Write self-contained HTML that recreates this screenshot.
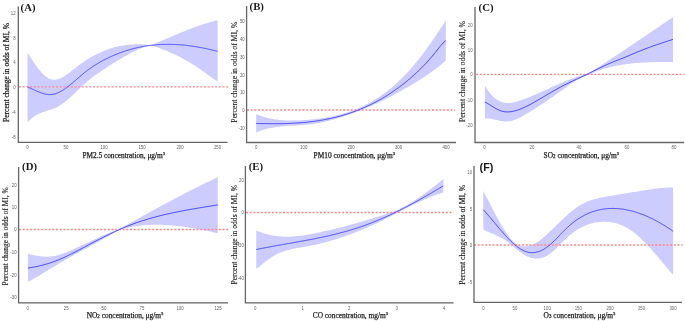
<!DOCTYPE html>
<html><head><meta charset="utf-8"><style>
html,body{margin:0;padding:0;background:#fff;}
body{width:685px;height:321px;overflow:hidden;font-family:"Liberation Serif", serif;}
svg{display:block;will-change:transform;}
</style></head><body>
<svg width="685" height="321" viewBox="0 0 685 321">
<rect width="685" height="321" fill="#fff"/>
<path d="M27.5,52.5 28.5,54.1 29.5,55.7 30.5,57.3 31.5,58.9 32.5,60.4 33.5,61.9 34.5,63.4 35.5,64.8 36.5,66.2 37.5,67.6 38.5,68.9 39.5,70.1 40.5,71.3 41.5,72.4 42.5,73.5 43.5,74.5 44.5,75.4 45.5,76.2 46.5,77.0 47.5,77.6 48.5,78.2 49.5,78.7 50.5,79.1 51.5,79.4 52.5,79.6 53.5,79.7 54.5,79.7 55.5,79.6 56.5,79.5 57.5,79.3 58.5,79.0 59.5,78.7 60.5,78.3 61.5,77.8 62.5,77.3 63.5,76.7 64.5,76.1 65.5,75.5 66.5,74.8 67.5,74.1 68.5,73.4 69.5,72.6 70.5,71.9 71.5,71.1 72.5,70.3 73.5,69.5 74.5,68.7 75.5,67.9 76.5,67.1 77.5,66.3 78.5,65.5 79.5,64.8 80.5,64.1 81.5,63.3 82.5,62.6 83.5,61.9 84.5,61.3 85.5,60.6 86.5,60.0 87.5,59.3 88.5,58.7 89.5,58.1 90.5,57.5 91.5,56.9 92.5,56.4 93.5,55.8 94.5,55.3 95.5,54.8 96.5,54.2 97.5,53.7 98.5,53.3 99.5,52.8 100.5,52.3 101.5,51.9 102.5,51.5 103.5,51.1 104.5,50.6 105.5,50.3 106.5,49.9 107.5,49.5 108.5,49.2 109.5,48.8 110.5,48.5 111.5,48.2 112.5,47.9 113.5,47.6 114.5,47.3 115.5,47.1 116.5,46.8 117.5,46.6 118.5,46.3 119.5,46.1 120.5,45.9 121.5,45.7 122.5,45.6 123.5,45.4 124.5,45.2 125.5,45.1 126.5,45.0 127.5,44.8 128.5,44.7 129.5,44.6 130.5,44.5 131.5,44.5 132.5,44.4 133.5,44.4 134.5,44.3 135.5,44.3 136.5,44.3 137.5,44.3 138.5,44.3 139.5,44.3 140.5,44.3 141.5,44.3 142.5,44.4 143.5,44.5 144.5,44.5 145.5,44.6 146.5,44.7 147.5,44.8 148.5,44.9 149.5,45.0 150.5,45.1 150.9,45.2 151.9,44.8 152.9,44.4 153.9,44.0 154.9,43.6 155.9,43.2 156.9,42.7 157.9,42.3 158.9,41.9 159.9,41.5 160.9,41.1 161.9,40.6 162.9,40.2 163.9,39.8 164.9,39.4 165.9,38.9 166.9,38.5 167.9,38.1 168.9,37.7 169.9,37.2 170.9,36.8 171.9,36.4 172.9,36.0 173.9,35.5 174.9,35.1 175.9,34.7 176.9,34.3 177.9,33.9 178.9,33.5 179.9,33.0 180.9,32.6 181.9,32.2 182.9,31.8 183.9,31.4 184.9,31.0 185.9,30.6 186.9,30.2 187.9,29.8 188.9,29.5 189.9,29.1 190.9,28.7 191.9,28.3 192.9,28.0 193.9,27.6 194.9,27.2 195.9,26.9 196.9,26.5 197.9,26.1 198.9,25.8 199.9,25.5 200.9,25.1 201.9,24.8 202.9,24.4 203.9,24.1 204.9,23.8 205.9,23.5 206.9,23.2 207.9,22.9 208.9,22.6 209.9,22.3 210.9,22.0 211.9,21.7 212.9,21.4 213.9,21.2 214.9,20.9 215.9,20.6 216.9,20.4 217.6,20.2 217.6,81.5 216.9,81.1 215.9,80.4 214.9,79.8 213.9,79.1 212.9,78.4 211.9,77.7 210.9,77.0 209.9,76.2 208.9,75.5 207.9,74.8 206.9,74.0 205.9,73.3 204.9,72.6 203.9,71.9 202.9,71.2 201.9,70.5 200.9,69.8 199.9,69.1 198.9,68.4 197.9,67.7 196.9,67.1 195.9,66.4 194.9,65.8 193.9,65.1 192.9,64.5 191.9,63.9 190.9,63.3 189.9,62.7 188.9,62.1 187.9,61.5 186.9,60.9 185.9,60.3 184.9,59.8 183.9,59.2 182.9,58.7 181.9,58.1 180.9,57.6 179.9,57.1 178.9,56.6 177.9,56.1 176.9,55.6 175.9,55.1 174.9,54.6 173.9,54.1 172.9,53.7 171.9,53.2 170.9,52.8 169.9,52.3 168.9,51.9 167.9,51.5 166.9,51.1 165.9,50.6 164.9,50.2 163.9,49.8 162.9,49.4 161.9,49.1 160.9,48.7 159.9,48.3 158.9,47.9 157.9,47.6 156.9,47.2 155.9,46.9 154.9,46.5 153.9,46.2 152.9,45.8 151.9,45.5 150.9,45.2 150.5,45.3 149.5,45.5 148.5,45.8 147.5,46.0 146.5,46.3 145.5,46.6 144.5,47.0 143.5,47.3 142.5,47.7 141.5,48.1 140.5,48.5 139.5,48.9 138.5,49.3 137.5,49.8 136.5,50.2 135.5,50.7 134.5,51.2 133.5,51.7 132.5,52.2 131.5,52.7 130.5,53.2 129.5,53.8 128.5,54.3 127.5,54.9 126.5,55.4 125.5,56.0 124.5,56.6 123.5,57.1 122.5,57.7 121.5,58.3 120.5,58.9 119.5,59.5 118.5,60.1 117.5,60.7 116.5,61.3 115.5,61.9 114.5,62.5 113.5,63.1 112.5,63.7 111.5,64.4 110.5,65.0 109.5,65.6 108.5,66.3 107.5,66.9 106.5,67.6 105.5,68.2 104.5,68.9 103.5,69.5 102.5,70.2 101.5,70.9 100.5,71.6 99.5,72.3 98.5,73.0 97.5,73.7 96.5,74.4 95.5,75.1 94.5,75.8 93.5,76.6 92.5,77.3 91.5,78.1 90.5,78.9 89.5,79.7 88.5,80.5 87.5,81.3 86.5,82.1 85.5,83.0 84.5,83.9 83.5,84.8 82.5,85.8 81.5,86.7 80.5,87.7 79.5,88.7 78.5,89.6 77.5,90.6 76.5,91.6 75.5,92.6 74.5,93.5 73.5,94.5 72.5,95.4 71.5,96.3 70.5,97.2 69.5,98.1 68.5,99.0 67.5,99.9 66.5,100.7 65.5,101.5 64.5,102.3 63.5,103.1 62.5,103.8 61.5,104.5 60.5,105.1 59.5,105.8 58.5,106.3 57.5,106.9 56.5,107.4 55.5,107.8 54.5,108.2 53.5,108.6 52.5,109.0 51.5,109.4 50.5,109.7 49.5,110.0 48.5,110.3 47.5,110.7 46.5,111.0 45.5,111.3 44.5,111.6 43.5,111.9 42.5,112.3 41.5,112.7 40.5,113.0 39.5,113.5 38.5,113.9 37.5,114.4 36.5,115.0 35.5,115.5 34.5,116.2 33.5,116.8 32.5,117.6 31.5,118.4 30.5,119.3 29.5,120.2 28.5,121.2 27.5,122.3Z" fill="#ccccff"/>
<line x1="19.0" y1="86.80" x2="228.6" y2="86.80" stroke="#ff8585" stroke-width="1.35" stroke-dasharray="2 1.7"/>
<path d="M27.6,87.0 28.6,87.4 29.6,87.9 30.6,88.3 31.6,88.8 32.6,89.2 33.6,89.7 34.6,90.2 35.6,90.6 36.6,91.1 37.6,91.5 38.6,91.9 39.6,92.3 40.6,92.7 41.6,93.1 42.6,93.4 43.6,93.7 44.6,93.9 45.6,94.2 46.6,94.3 47.6,94.5 48.6,94.6 49.6,94.6 50.6,94.6 51.6,94.5 52.6,94.4 53.6,94.2 54.6,94.0 55.6,93.7 56.6,93.3 57.6,92.9 58.6,92.5 59.6,92.0 60.6,91.5 61.6,90.9 62.6,90.3 63.6,89.7 64.6,89.1 65.6,88.4 66.6,87.6 67.6,86.9 68.6,86.1 69.6,85.3 70.6,84.5 71.6,83.7 72.6,82.9 73.6,82.0 74.6,81.2 75.6,80.3 76.6,79.4 77.6,78.5 78.6,77.7 79.6,76.8 80.6,75.9 81.6,75.1 82.6,74.2 83.6,73.4 84.6,72.6 85.6,71.8 86.6,71.0 87.6,70.2 88.6,69.5 89.6,68.8 90.6,68.1 91.6,67.4 92.6,66.7 93.6,66.0 94.6,65.4 95.6,64.8 96.6,64.2 97.6,63.6 98.6,63.0 99.6,62.4 100.6,61.8 101.6,61.3 102.6,60.7 103.6,60.2 104.6,59.7 105.6,59.2 106.6,58.7 107.6,58.2 108.6,57.7 109.6,57.2 110.6,56.7 111.6,56.3 112.6,55.8 113.6,55.4 114.6,55.0 115.6,54.6 116.6,54.2 117.6,53.8 118.6,53.4 119.6,53.0 120.6,52.6 121.6,52.2 122.6,51.9 123.6,51.5 124.6,51.2 125.6,50.9 126.6,50.6 127.6,50.3 128.6,50.0 129.6,49.7 130.6,49.4 131.6,49.1 132.6,48.8 133.6,48.6 134.6,48.3 135.6,48.1 136.6,47.8 137.6,47.6 138.6,47.4 139.6,47.2 140.6,47.0 141.6,46.8 142.6,46.6 143.6,46.4 144.6,46.2 145.6,46.1 146.6,45.9 147.6,45.8 148.6,45.6 149.6,45.5 150.6,45.4 151.6,45.3 152.6,45.2 153.6,45.1 154.6,45.0 155.6,44.9 156.6,44.8 157.6,44.7 158.6,44.6 159.6,44.6 160.6,44.5 161.6,44.5 162.6,44.4 163.6,44.4 164.6,44.4 165.6,44.4 166.6,44.4 167.6,44.4 168.6,44.4 169.6,44.4 170.6,44.4 171.6,44.4 172.6,44.4 173.6,44.5 174.6,44.5 175.6,44.5 176.6,44.6 177.6,44.6 178.6,44.7 179.6,44.8 180.6,44.9 181.6,44.9 182.6,45.0 183.6,45.1 184.6,45.2 185.6,45.3 186.6,45.4 187.6,45.6 188.6,45.7 189.6,45.8 190.6,45.9 191.6,46.1 192.6,46.2 193.6,46.4 194.6,46.5 195.6,46.7 196.6,46.8 197.6,47.0 198.6,47.2 199.6,47.4 200.6,47.6 201.6,47.7 202.6,47.9 203.6,48.1 204.6,48.3 205.6,48.5 206.6,48.8 207.6,49.0 208.6,49.2 209.6,49.4 210.6,49.7 211.6,49.9 212.6,50.1 213.6,50.4 214.6,50.6 215.6,50.9 216.6,51.1 217.6,51.4" fill="none" stroke="#4646ff" stroke-width="1.0"/>
<path d="M18.30,6.50 L18.30,142.40 L227.50,142.40" fill="none" stroke="#666666" stroke-width="1.3"/>
<text transform="translate(20.60,10.75) scale(0.95,1)" font-family="Liberation Serif, serif" font-weight="bold" font-size="11.3" fill="#1a1a1a">(A)</text>
<text transform="translate(8.6,72.5) rotate(-90)" text-anchor="middle" font-family="Liberation Serif, serif" font-size="7.54" fill="#222" stroke="#222" stroke-width="0.25" textLength="99.0" lengthAdjust="spacingAndGlyphs">Percent change in odds of MI, %</text>
<text x="123.7" y="157.6" text-anchor="middle" font-family="Liberation Serif, serif" font-size="7.60" fill="#222" stroke="#222" stroke-width="0.25" textLength="82.6" lengthAdjust="spacingAndGlyphs">PM2.5 concentration, μg/m<tspan font-size="4.71" dy="-2.6">3</tspan></text>
<text transform="translate(15.60,14.76) scale(0.88,1)" text-anchor="end" font-family="Liberation Sans, sans-serif" font-size="4.90" fill="#5e5e5e">12</text>
<text transform="translate(15.60,39.76) scale(0.88,1)" text-anchor="end" font-family="Liberation Sans, sans-serif" font-size="4.90" fill="#5e5e5e">8</text>
<text transform="translate(15.60,64.26) scale(0.88,1)" text-anchor="end" font-family="Liberation Sans, sans-serif" font-size="4.90" fill="#5e5e5e">4</text>
<text transform="translate(15.60,88.76) scale(0.88,1)" text-anchor="end" font-family="Liberation Sans, sans-serif" font-size="4.90" fill="#5e5e5e">0</text>
<text transform="translate(15.60,113.76) scale(0.88,1)" text-anchor="end" font-family="Liberation Sans, sans-serif" font-size="4.90" fill="#5e5e5e">-4</text>
<text transform="translate(15.60,138.76) scale(0.88,1)" text-anchor="end" font-family="Liberation Sans, sans-serif" font-size="4.90" fill="#5e5e5e">-8</text>
<text transform="translate(27.50,148.80) scale(0.88,1)" text-anchor="middle" font-family="Liberation Sans, sans-serif" font-size="4.90" fill="#5e5e5e">0</text>
<text transform="translate(66.00,148.80) scale(0.88,1)" text-anchor="middle" font-family="Liberation Sans, sans-serif" font-size="4.90" fill="#5e5e5e">50</text>
<text transform="translate(104.00,148.80) scale(0.88,1)" text-anchor="middle" font-family="Liberation Sans, sans-serif" font-size="4.90" fill="#5e5e5e">100</text>
<text transform="translate(142.00,148.80) scale(0.88,1)" text-anchor="middle" font-family="Liberation Sans, sans-serif" font-size="4.90" fill="#5e5e5e">150</text>
<text transform="translate(180.00,148.80) scale(0.88,1)" text-anchor="middle" font-family="Liberation Sans, sans-serif" font-size="4.90" fill="#5e5e5e">200</text>
<text transform="translate(217.50,148.80) scale(0.88,1)" text-anchor="middle" font-family="Liberation Sans, sans-serif" font-size="4.90" fill="#5e5e5e">250</text>
<path d="M256.2,114.3 257.2,114.7 258.2,115.1 259.2,115.4 260.2,115.7 261.2,116.1 262.2,116.4 263.2,116.7 264.2,117.0 265.2,117.3 266.2,117.5 267.2,117.8 268.2,118.0 269.2,118.2 270.2,118.4 271.2,118.7 272.2,118.8 273.2,119.0 274.2,119.2 275.2,119.4 276.2,119.5 277.2,119.6 278.2,119.8 279.2,119.9 280.2,120.0 281.2,120.1 282.2,120.2 283.2,120.3 284.2,120.3 285.2,120.4 286.2,120.5 287.2,120.5 288.2,120.5 289.2,120.6 290.2,120.6 291.2,120.6 292.2,120.6 293.2,120.6 294.2,120.6 295.2,120.6 296.2,120.6 297.2,120.5 298.2,120.5 299.2,120.4 300.2,120.4 301.2,120.3 302.2,120.3 303.2,120.2 304.2,120.1 305.2,120.1 306.2,120.0 307.2,119.9 308.2,119.8 309.2,119.7 310.2,119.6 311.2,119.5 312.2,119.4 313.2,119.3 314.2,119.2 315.2,119.1 316.2,119.0 317.2,118.8 318.2,118.7 319.2,118.6 320.2,118.4 321.2,118.3 322.2,118.1 323.2,118.0 324.2,117.8 325.2,117.7 326.2,117.5 327.2,117.3 328.2,117.1 329.2,116.9 330.2,116.8 331.2,116.6 332.2,116.4 333.2,116.1 334.2,115.9 335.2,115.7 336.2,115.5 337.2,115.2 338.2,115.0 339.2,114.7 340.2,114.5 341.2,114.2 342.2,113.9 343.2,113.6 344.2,113.3 345.2,113.0 346.2,112.7 347.2,112.4 348.2,112.1 349.2,111.8 350.2,111.4 351.2,111.1 352.2,110.7 353.2,110.3 354.2,109.9 355.2,109.6 356.2,109.2 357.2,108.7 358.2,108.3 359.2,107.9 360.2,107.4 361.2,107.0 362.2,106.5 363.2,106.1 364.2,105.6 365.2,105.1 366.2,104.6 367.2,104.0 368.2,103.5 369.2,103.0 370.2,102.4 371.2,101.9 372.2,101.3 373.2,100.7 374.2,100.1 375.2,99.5 376.2,98.8 377.2,98.2 378.2,97.5 379.2,96.9 380.2,96.2 381.2,95.5 382.2,94.8 383.2,94.1 384.2,93.4 385.2,92.6 386.2,91.9 387.2,91.1 388.2,90.3 389.2,89.5 390.2,88.7 391.2,87.9 392.2,87.0 393.2,86.2 394.2,85.3 395.2,84.4 396.2,83.5 397.2,82.6 398.2,81.7 399.2,80.7 400.2,79.8 401.2,78.8 402.2,77.8 403.2,76.8 404.2,75.8 405.2,74.8 406.2,73.7 407.2,72.7 408.2,71.6 409.2,70.5 410.2,69.4 411.2,68.2 412.2,67.1 413.2,65.9 414.2,64.8 415.2,63.6 416.2,62.4 417.2,61.1 418.2,59.9 419.2,58.6 420.2,57.4 421.2,56.1 422.2,54.8 423.2,53.4 424.2,52.1 425.2,50.7 426.2,49.4 427.2,48.0 428.2,46.6 429.2,45.2 430.2,43.7 431.2,42.3 432.2,40.9 433.2,39.4 434.2,37.9 435.2,36.5 436.2,35.0 437.2,33.5 438.2,32.0 439.2,30.5 440.2,29.0 441.2,27.5 442.2,26.0 443.2,24.5 444.2,23.0 445.2,21.5 445.8,20.6 445.8,60.6 445.2,61.1 444.2,62.0 443.2,62.8 442.2,63.6 441.2,64.5 440.2,65.3 439.2,66.1 438.2,66.9 437.2,67.6 436.2,68.4 435.2,69.2 434.2,69.9 433.2,70.7 432.2,71.4 431.2,72.1 430.2,72.8 429.2,73.5 428.2,74.2 427.2,74.9 426.2,75.6 425.2,76.3 424.2,77.0 423.2,77.6 422.2,78.3 421.2,78.9 420.2,79.6 419.2,80.2 418.2,80.8 417.2,81.5 416.2,82.1 415.2,82.7 414.2,83.3 413.2,83.9 412.2,84.5 411.2,85.1 410.2,85.7 409.2,86.3 408.2,86.8 407.2,87.4 406.2,88.0 405.2,88.6 404.2,89.1 403.2,89.7 402.2,90.2 401.2,90.8 400.2,91.4 399.2,91.9 398.2,92.5 397.2,93.0 396.2,93.5 395.2,94.1 394.2,94.6 393.2,95.2 392.2,95.7 391.2,96.2 390.2,96.7 389.2,97.3 388.2,97.8 387.2,98.3 386.2,98.8 385.2,99.3 384.2,99.8 383.2,100.3 382.2,100.8 381.2,101.3 380.2,101.8 379.2,102.2 378.2,102.7 377.2,103.2 376.2,103.6 375.2,104.1 374.2,104.5 373.2,105.0 372.2,105.4 371.2,105.9 370.2,106.3 369.2,106.7 368.2,107.2 367.2,107.6 366.2,108.0 365.2,108.4 364.2,108.8 363.2,109.2 362.2,109.6 361.2,110.0 360.2,110.4 359.2,110.8 358.2,111.2 357.2,111.6 356.2,111.9 355.2,112.3 354.2,112.7 353.2,113.1 352.2,113.4 351.2,113.8 350.2,114.1 349.2,114.5 348.2,114.8 347.2,115.2 346.2,115.5 345.2,115.9 344.2,116.2 343.2,116.5 342.2,116.9 341.2,117.2 340.2,117.5 339.2,117.8 338.2,118.1 337.2,118.4 336.2,118.7 335.2,119.0 334.2,119.3 333.2,119.6 332.2,119.8 331.2,120.1 330.2,120.4 329.2,120.6 328.2,120.9 327.2,121.1 326.2,121.4 325.2,121.6 324.2,121.9 323.2,122.1 322.2,122.3 321.2,122.5 320.2,122.7 319.2,122.9 318.2,123.1 317.2,123.3 316.2,123.5 315.2,123.6 314.2,123.8 313.2,123.9 312.2,124.1 311.2,124.2 310.2,124.3 309.2,124.4 308.2,124.6 307.2,124.7 306.2,124.7 305.2,124.8 304.2,124.9 303.2,125.0 302.2,125.1 301.2,125.1 300.2,125.2 299.2,125.3 298.2,125.3 297.2,125.4 296.2,125.4 295.2,125.5 294.2,125.5 293.2,125.6 292.2,125.6 291.2,125.7 290.2,125.8 289.2,125.8 288.2,125.9 287.2,125.9 286.2,126.0 285.2,126.1 284.2,126.2 283.2,126.3 282.2,126.3 281.2,126.4 280.2,126.5 279.2,126.7 278.2,126.8 277.2,126.9 276.2,127.0 275.2,127.2 274.2,127.3 273.2,127.5 272.2,127.7 271.2,127.9 270.2,128.1 269.2,128.3 268.2,128.5 267.2,128.7 266.2,129.0 265.2,129.3 264.2,129.5 263.2,129.8 262.2,130.1 261.2,130.5 260.2,130.8 259.2,131.2 258.2,131.6 257.2,132.0 256.2,132.4Z" fill="#ccccff"/>
<line x1="247.0" y1="110.00" x2="455.0" y2="110.00" stroke="#ff8585" stroke-width="1.35" stroke-dasharray="2 1.7"/>
<path d="M256.2,123.4 257.2,123.4 258.2,123.5 259.2,123.5 260.2,123.5 261.2,123.5 262.2,123.6 263.2,123.6 264.2,123.6 265.2,123.6 266.2,123.6 267.2,123.7 268.2,123.7 269.2,123.7 270.2,123.7 271.2,123.7 272.2,123.7 273.2,123.7 274.2,123.7 275.2,123.7 276.2,123.7 277.2,123.7 278.2,123.7 279.2,123.7 280.2,123.7 281.2,123.7 282.2,123.6 283.2,123.6 284.2,123.6 285.2,123.6 286.2,123.5 287.2,123.5 288.2,123.5 289.2,123.4 290.2,123.4 291.2,123.3 292.2,123.3 293.2,123.2 294.2,123.2 295.2,123.1 296.2,123.1 297.2,123.0 298.2,122.9 299.2,122.9 300.2,122.8 301.2,122.7 302.2,122.6 303.2,122.5 304.2,122.5 305.2,122.4 306.2,122.3 307.2,122.2 308.2,122.1 309.2,121.9 310.2,121.8 311.2,121.7 312.2,121.6 313.2,121.5 314.2,121.3 315.2,121.2 316.2,121.0 317.2,120.9 318.2,120.7 319.2,120.6 320.2,120.4 321.2,120.3 322.2,120.1 323.2,119.9 324.2,119.7 325.2,119.5 326.2,119.3 327.2,119.1 328.2,118.9 329.2,118.7 330.2,118.5 331.2,118.3 332.2,118.1 333.2,117.8 334.2,117.6 335.2,117.4 336.2,117.1 337.2,116.9 338.2,116.6 339.2,116.3 340.2,116.1 341.2,115.8 342.2,115.5 343.2,115.2 344.2,114.9 345.2,114.6 346.2,114.3 347.2,114.0 348.2,113.7 349.2,113.3 350.2,113.0 351.2,112.7 352.2,112.3 353.2,112.0 354.2,111.6 355.2,111.2 356.2,110.9 357.2,110.5 358.2,110.1 359.2,109.7 360.2,109.3 361.2,108.9 362.2,108.4 363.2,108.0 364.2,107.6 365.2,107.1 366.2,106.7 367.2,106.2 368.2,105.8 369.2,105.3 370.2,104.8 371.2,104.3 372.2,103.8 373.2,103.3 374.2,102.8 375.2,102.3 376.2,101.8 377.2,101.2 378.2,100.7 379.2,100.1 380.2,99.6 381.2,99.0 382.2,98.4 383.2,97.8 384.2,97.2 385.2,96.6 386.2,96.0 387.2,95.4 388.2,94.7 389.2,94.1 390.2,93.4 391.2,92.8 392.2,92.1 393.2,91.4 394.2,90.7 395.2,90.0 396.2,89.3 397.2,88.6 398.2,87.9 399.2,87.1 400.2,86.4 401.2,85.6 402.2,84.9 403.2,84.1 404.2,83.3 405.2,82.5 406.2,81.7 407.2,80.9 408.2,80.0 409.2,79.2 410.2,78.4 411.2,77.5 412.2,76.6 413.2,75.7 414.2,74.8 415.2,73.9 416.2,73.0 417.2,72.1 418.2,71.1 419.2,70.2 420.2,69.2 421.2,68.2 422.2,67.2 423.2,66.2 424.2,65.2 425.2,64.1 426.2,63.1 427.2,62.0 428.2,60.9 429.2,59.7 430.2,58.6 431.2,57.4 432.2,56.2 433.2,55.0 434.2,53.8 435.2,52.6 436.2,51.3 437.2,50.0 438.2,48.8 439.2,47.6 440.2,46.3 441.2,45.2 442.2,44.1 443.2,43.0 444.2,42.0 445.2,41.0 445.8,40.5" fill="none" stroke="#4646ff" stroke-width="1.0"/>
<path d="M246.60,6.00 L246.60,142.50 L456.00,142.50" fill="none" stroke="#666666" stroke-width="1.3"/>
<text transform="translate(249.60,9.80) scale(0.95,1)" font-family="Liberation Serif, serif" font-weight="bold" font-size="11.3" fill="#1a1a1a">(B)</text>
<text transform="translate(237.2,72.2) rotate(-90)" text-anchor="middle" font-family="Liberation Serif, serif" font-size="7.30" fill="#222" stroke="#222" stroke-width="0.12" textLength="100.9" lengthAdjust="spacingAndGlyphs">Percent change in odds of MI, %</text>
<text x="354.3" y="157.6" text-anchor="middle" font-family="Liberation Serif, serif" font-size="7.60" fill="#222" stroke="#222" stroke-width="0.25" textLength="81.4" lengthAdjust="spacingAndGlyphs">PM10 concentration, μg/m<tspan font-size="4.71" dy="-2.6">3</tspan></text>
<text transform="translate(244.70,22.76) scale(0.88,1)" text-anchor="end" font-family="Liberation Sans, sans-serif" font-size="4.90" fill="#5e5e5e">50</text>
<text transform="translate(244.70,40.76) scale(0.88,1)" text-anchor="end" font-family="Liberation Sans, sans-serif" font-size="4.90" fill="#5e5e5e">40</text>
<text transform="translate(244.70,58.76) scale(0.88,1)" text-anchor="end" font-family="Liberation Sans, sans-serif" font-size="4.90" fill="#5e5e5e">30</text>
<text transform="translate(244.70,76.76) scale(0.88,1)" text-anchor="end" font-family="Liberation Sans, sans-serif" font-size="4.90" fill="#5e5e5e">20</text>
<text transform="translate(244.70,94.26) scale(0.88,1)" text-anchor="end" font-family="Liberation Sans, sans-serif" font-size="4.90" fill="#5e5e5e">10</text>
<text transform="translate(244.70,111.76) scale(0.88,1)" text-anchor="end" font-family="Liberation Sans, sans-serif" font-size="4.90" fill="#5e5e5e">0</text>
<text transform="translate(244.70,129.76) scale(0.88,1)" text-anchor="end" font-family="Liberation Sans, sans-serif" font-size="4.90" fill="#5e5e5e">-10</text>
<text transform="translate(256.30,148.80) scale(0.88,1)" text-anchor="middle" font-family="Liberation Sans, sans-serif" font-size="4.90" fill="#5e5e5e">0</text>
<text transform="translate(303.70,148.80) scale(0.88,1)" text-anchor="middle" font-family="Liberation Sans, sans-serif" font-size="4.90" fill="#5e5e5e">100</text>
<text transform="translate(351.00,148.80) scale(0.88,1)" text-anchor="middle" font-family="Liberation Sans, sans-serif" font-size="4.90" fill="#5e5e5e">200</text>
<text transform="translate(398.50,148.80) scale(0.88,1)" text-anchor="middle" font-family="Liberation Sans, sans-serif" font-size="4.90" fill="#5e5e5e">300</text>
<text transform="translate(446.00,148.80) scale(0.88,1)" text-anchor="middle" font-family="Liberation Sans, sans-serif" font-size="4.90" fill="#5e5e5e">400</text>
<path d="M484.9,85.6 485.9,87.3 486.9,88.9 487.9,90.4 488.9,91.7 489.9,93.0 490.9,94.2 491.9,95.3 492.9,96.4 493.9,97.3 494.9,98.2 495.9,98.9 496.9,99.6 497.9,100.3 498.9,100.8 499.9,101.3 500.9,101.7 501.9,102.1 502.9,102.4 503.9,102.6 504.9,102.8 505.9,102.9 506.9,103.0 507.9,103.0 508.9,103.0 509.9,102.9 510.9,102.9 511.9,102.7 512.9,102.6 513.9,102.4 514.9,102.1 515.9,101.9 516.9,101.6 517.9,101.3 518.9,101.0 519.9,100.6 520.9,100.3 521.9,99.9 522.9,99.6 523.9,99.2 524.9,98.8 525.9,98.4 526.9,98.1 527.9,97.7 528.9,97.3 529.9,96.9 530.9,96.4 531.9,96.0 532.9,95.6 533.9,95.2 534.9,94.7 535.9,94.3 536.9,93.9 537.9,93.4 538.9,93.0 539.9,92.5 540.9,92.1 541.9,91.6 542.9,91.2 543.9,90.7 544.9,90.3 545.9,89.8 546.9,89.4 547.9,88.9 548.9,88.5 549.9,88.0 550.9,87.6 551.9,87.1 552.9,86.6 553.9,86.2 554.9,85.7 555.9,85.3 556.9,84.9 557.9,84.4 558.9,84.0 559.9,83.5 560.9,83.1 561.9,82.7 562.9,82.3 563.9,81.8 564.9,81.4 565.9,81.0 566.9,80.6 567.9,80.2 568.9,79.8 569.9,79.4 570.9,79.0 571.9,78.7 572.9,78.3 573.9,77.9 574.9,77.6 575.9,77.2 576.9,76.9 577.9,76.6 578.9,76.3 579.9,75.9 580.9,75.6 581.9,75.4 582.9,75.1 583.9,74.8 584.9,74.5 585.9,74.3 586.9,74.0 587.1,74.0 588.1,73.4 589.1,72.8 590.1,72.2 591.1,71.5 592.1,70.9 593.1,70.3 594.1,69.7 595.1,69.0 596.1,68.4 597.1,67.8 598.1,67.2 599.1,66.5 600.1,65.9 601.1,65.3 602.1,64.6 603.1,64.0 604.1,63.3 605.1,62.7 606.1,62.0 607.1,61.4 608.1,60.7 609.1,60.1 610.1,59.4 611.1,58.8 612.1,58.1 613.1,57.5 614.1,56.8 615.1,56.2 616.1,55.5 617.1,54.8 618.1,54.2 619.1,53.5 620.1,52.9 621.1,52.2 622.1,51.5 623.1,50.9 624.1,50.2 625.1,49.5 626.1,48.8 627.1,48.2 628.1,47.5 629.1,46.8 630.1,46.2 631.1,45.5 632.1,44.8 633.1,44.1 634.1,43.5 635.1,42.8 636.1,42.1 637.1,41.4 638.1,40.8 639.1,40.1 640.1,39.4 641.1,38.7 642.1,38.1 643.1,37.4 644.1,36.7 645.1,36.0 646.1,35.3 647.1,34.7 648.1,34.0 649.1,33.3 650.1,32.6 651.1,31.9 652.1,31.3 653.1,30.6 654.1,29.9 655.1,29.2 656.1,28.6 657.1,27.9 658.1,27.2 659.1,26.5 660.1,25.9 661.1,25.2 662.1,24.5 663.1,23.8 664.1,23.2 665.1,22.5 666.1,21.8 667.1,21.1 668.1,20.5 669.1,19.8 670.1,19.1 671.1,18.5 672.1,17.8 673.0,17.2 673.0,61.9 672.1,61.9 671.1,61.9 670.1,61.9 669.1,61.9 668.1,61.9 667.1,62.0 666.1,62.0 665.1,62.0 664.1,62.0 663.1,62.0 662.1,62.0 661.1,62.0 660.1,62.0 659.1,62.1 658.1,62.1 657.1,62.1 656.1,62.1 655.1,62.1 654.1,62.2 653.1,62.2 652.1,62.2 651.1,62.2 650.1,62.3 649.1,62.3 648.1,62.3 647.1,62.4 646.1,62.4 645.1,62.5 644.1,62.5 643.1,62.6 642.1,62.6 641.1,62.7 640.1,62.8 639.1,62.8 638.1,62.9 637.1,63.0 636.1,63.1 635.1,63.1 634.1,63.2 633.1,63.3 632.1,63.4 631.1,63.5 630.1,63.7 629.1,63.8 628.1,63.9 627.1,64.0 626.1,64.1 625.1,64.3 624.1,64.4 623.1,64.6 622.1,64.7 621.1,64.9 620.1,65.1 619.1,65.2 618.1,65.4 617.1,65.6 616.1,65.8 615.1,66.0 614.1,66.2 613.1,66.5 612.1,66.7 611.1,66.9 610.1,67.2 609.1,67.4 608.1,67.7 607.1,67.9 606.1,68.2 605.1,68.5 604.1,68.8 603.1,69.1 602.1,69.4 601.1,69.7 600.1,70.1 599.1,70.4 598.1,70.8 597.1,71.1 596.1,71.5 595.1,71.9 594.1,72.3 593.1,72.7 592.1,73.1 591.1,73.5 590.1,73.9 589.1,74.4 588.1,74.8 587.1,75.3 586.9,75.4 585.9,75.7 584.9,76.1 583.9,76.5 582.9,76.9 581.9,77.4 580.9,77.9 579.9,78.4 578.9,78.9 577.9,79.5 576.9,80.1 575.9,80.7 574.9,81.3 573.9,81.9 572.9,82.6 571.9,83.3 570.9,83.9 569.9,84.6 568.9,85.3 567.9,86.0 566.9,86.7 565.9,87.5 564.9,88.2 563.9,88.9 562.9,89.6 561.9,90.3 560.9,91.0 559.9,91.8 558.9,92.5 557.9,93.2 556.9,93.9 555.9,94.6 554.9,95.3 553.9,96.0 552.9,96.7 551.9,97.4 550.9,98.1 549.9,98.8 548.9,99.5 547.9,100.1 546.9,100.8 545.9,101.5 544.9,102.2 543.9,102.9 542.9,103.5 541.9,104.2 540.9,104.8 539.9,105.5 538.9,106.1 537.9,106.8 536.9,107.4 535.9,108.1 534.9,108.7 533.9,109.3 532.9,110.0 531.9,110.6 530.9,111.2 529.9,111.8 528.9,112.4 527.9,113.0 526.9,113.6 525.9,114.1 524.9,114.7 523.9,115.3 522.9,115.8 521.9,116.4 520.9,116.9 519.9,117.4 518.9,117.9 517.9,118.4 516.9,118.9 515.9,119.3 514.9,119.7 513.9,120.0 512.9,120.4 511.9,120.7 510.9,120.9 509.9,121.1 508.9,121.3 507.9,121.4 506.9,121.4 505.9,121.5 504.9,121.4 503.9,121.4 502.9,121.3 501.9,121.1 500.9,121.0 499.9,120.8 498.9,120.6 497.9,120.3 496.9,120.1 495.9,119.9 494.9,119.6 493.9,119.4 492.9,119.2 491.9,119.0 490.9,118.8 489.9,118.6 488.9,118.5 487.9,118.4 486.9,118.4 485.9,118.4 484.9,118.5Z" fill="#ccccff"/>
<line x1="476.0" y1="74.40" x2="684.5" y2="74.40" stroke="#ff8585" stroke-width="1.35" stroke-dasharray="2 1.7"/>
<path d="M484.9,102.1 485.9,102.6 486.9,103.1 487.9,103.7 488.9,104.3 489.9,104.9 490.9,105.5 491.9,106.2 492.9,106.8 493.9,107.4 494.9,108.0 495.9,108.5 496.9,109.1 497.9,109.6 498.9,110.1 499.9,110.5 500.9,110.9 501.9,111.2 502.9,111.4 503.9,111.6 504.9,111.8 505.9,111.9 506.9,111.9 507.9,111.9 508.9,111.9 509.9,111.8 510.9,111.7 511.9,111.5 512.9,111.3 513.9,111.1 514.9,110.9 515.9,110.6 516.9,110.3 517.9,110.0 518.9,109.6 519.9,109.3 520.9,108.9 521.9,108.5 522.9,108.0 523.9,107.6 524.9,107.1 525.9,106.6 526.9,106.1 527.9,105.6 528.9,105.1 529.9,104.6 530.9,104.1 531.9,103.5 532.9,103.0 533.9,102.4 534.9,101.8 535.9,101.2 536.9,100.7 537.9,100.1 538.9,99.5 539.9,98.9 540.9,98.3 541.9,97.8 542.9,97.2 543.9,96.6 544.9,96.0 545.9,95.4 546.9,94.8 547.9,94.2 548.9,93.6 549.9,93.1 550.9,92.5 551.9,91.9 552.9,91.3 553.9,90.8 554.9,90.2 555.9,89.6 556.9,89.1 557.9,88.5 558.9,88.0 559.9,87.4 560.9,86.9 561.9,86.3 562.9,85.8 563.9,85.3 564.9,84.8 565.9,84.3 566.9,83.8 567.9,83.3 568.9,82.8 569.9,82.3 570.9,81.8 571.9,81.4 572.9,80.9 573.9,80.4 574.9,80.0 575.9,79.5 576.9,79.0 577.9,78.6 578.9,78.1 579.9,77.7 580.9,77.2 581.9,76.7 582.9,76.3 583.9,75.8 584.9,75.3 585.9,74.9 586.9,74.4 587.9,73.9 588.9,73.4 589.9,72.9 590.9,72.4 591.9,71.9 592.9,71.4 593.9,70.9 594.9,70.4 595.9,69.9 596.9,69.4 597.9,68.9 598.9,68.4 599.9,67.9 600.9,67.4 601.9,66.9 602.9,66.5 603.9,66.0 604.9,65.5 605.9,65.0 606.9,64.6 607.9,64.1 608.9,63.7 609.9,63.3 610.9,62.8 611.9,62.4 612.9,62.0 613.9,61.6 614.9,61.2 615.9,60.8 616.9,60.4 617.9,60.0 618.9,59.7 619.9,59.3 620.9,58.9 621.9,58.5 622.9,58.1 623.9,57.7 624.9,57.3 625.9,56.9 626.9,56.5 627.9,56.1 628.9,55.6 629.9,55.2 630.9,54.8 631.9,54.4 632.9,53.9 633.9,53.5 634.9,53.1 635.9,52.7 636.9,52.2 637.9,51.8 638.9,51.4 639.9,51.0 640.9,50.6 641.9,50.2 642.9,49.8 643.9,49.4 644.9,49.0 645.9,48.6 646.9,48.3 647.9,47.9 648.9,47.5 649.9,47.2 650.9,46.8 651.9,46.4 652.9,46.1 653.9,45.7 654.9,45.4 655.9,45.0 656.9,44.7 657.9,44.3 658.9,44.0 659.9,43.7 660.9,43.3 661.9,43.0 662.9,42.7 663.9,42.3 664.9,42.0 665.9,41.7 666.9,41.4 667.9,41.0 668.9,40.7 669.9,40.4 670.9,40.1 671.9,39.7 672.9,39.4 673.0,39.4" fill="none" stroke="#4646ff" stroke-width="1.0"/>
<path d="M475.00,7.00 L475.00,142.50 L684.00,142.50" fill="none" stroke="#666666" stroke-width="1.3"/>
<text transform="translate(478.60,10.60) scale(0.95,1)" font-family="Liberation Serif, serif" font-weight="bold" font-size="11.3" fill="#1a1a1a">(C)</text>
<text transform="translate(465.2,71.5) rotate(-90)" text-anchor="middle" font-family="Liberation Serif, serif" font-size="7.30" fill="#222" stroke="#222" stroke-width="0.12" textLength="100.9" lengthAdjust="spacingAndGlyphs">Percent change in odds of MI, %</text>
<text x="581.3" y="157.6" text-anchor="middle" font-family="Liberation Serif, serif" font-size="7.60" fill="#222" stroke="#222" stroke-width="0.25" textLength="75.4" lengthAdjust="spacingAndGlyphs">SO<tspan font-size="5.17">2</tspan> concentration, μg/m<tspan font-size="4.71" dy="-2.6">3</tspan></text>
<text transform="translate(472.60,26.76) scale(0.88,1)" text-anchor="end" font-family="Liberation Sans, sans-serif" font-size="4.90" fill="#5e5e5e">20</text>
<text transform="translate(472.60,51.76) scale(0.88,1)" text-anchor="end" font-family="Liberation Sans, sans-serif" font-size="4.90" fill="#5e5e5e">10</text>
<text transform="translate(472.60,76.26) scale(0.88,1)" text-anchor="end" font-family="Liberation Sans, sans-serif" font-size="4.90" fill="#5e5e5e">0</text>
<text transform="translate(472.60,101.76) scale(0.88,1)" text-anchor="end" font-family="Liberation Sans, sans-serif" font-size="4.90" fill="#5e5e5e">-10</text>
<text transform="translate(472.60,126.76) scale(0.88,1)" text-anchor="end" font-family="Liberation Sans, sans-serif" font-size="4.90" fill="#5e5e5e">-20</text>
<text transform="translate(484.50,148.80) scale(0.88,1)" text-anchor="middle" font-family="Liberation Sans, sans-serif" font-size="4.90" fill="#5e5e5e">0</text>
<text transform="translate(532.00,148.80) scale(0.88,1)" text-anchor="middle" font-family="Liberation Sans, sans-serif" font-size="4.90" fill="#5e5e5e">20</text>
<text transform="translate(579.00,148.80) scale(0.88,1)" text-anchor="middle" font-family="Liberation Sans, sans-serif" font-size="4.90" fill="#5e5e5e">40</text>
<text transform="translate(627.00,148.80) scale(0.88,1)" text-anchor="middle" font-family="Liberation Sans, sans-serif" font-size="4.90" fill="#5e5e5e">60</text>
<text transform="translate(674.00,148.80) scale(0.88,1)" text-anchor="middle" font-family="Liberation Sans, sans-serif" font-size="4.90" fill="#5e5e5e">80</text>
<path d="M27.9,253.7 28.9,254.0 29.9,254.2 30.9,254.5 31.9,254.7 32.9,254.9 33.9,255.2 34.9,255.4 35.9,255.6 36.9,255.8 37.9,256.0 38.9,256.1 39.9,256.3 40.9,256.4 41.9,256.5 42.9,256.6 43.9,256.6 44.9,256.7 45.9,256.7 46.9,256.7 47.9,256.7 48.9,256.7 49.9,256.6 50.9,256.5 51.9,256.4 52.9,256.3 53.9,256.1 54.9,255.9 55.9,255.7 56.9,255.5 57.9,255.2 58.9,254.9 59.9,254.6 60.9,254.3 61.9,254.0 62.9,253.6 63.9,253.2 64.9,252.8 65.9,252.4 66.9,252.0 67.9,251.6 68.9,251.2 69.9,250.8 70.9,250.3 71.9,249.9 72.9,249.4 73.9,249.0 74.9,248.5 75.9,248.1 76.9,247.6 77.9,247.2 78.9,246.7 79.9,246.2 80.9,245.8 81.9,245.3 82.9,244.9 83.9,244.4 84.9,243.9 85.9,243.5 86.9,243.0 87.9,242.5 88.9,242.0 89.9,241.6 90.9,241.1 91.9,240.6 92.9,240.2 93.9,239.7 94.9,239.2 95.9,238.8 96.9,238.3 97.9,237.9 98.9,237.4 99.9,237.0 100.9,236.5 101.9,236.1 102.9,235.6 103.9,235.2 104.9,234.7 105.9,234.3 106.9,233.9 107.9,233.5 108.9,233.0 109.9,232.6 110.9,232.2 111.9,231.8 112.9,231.4 113.9,231.0 114.9,230.6 115.9,230.3 116.9,229.9 117.9,229.5 118.5,229.3 119.5,228.8 120.5,228.2 121.5,227.7 122.5,227.2 123.5,226.6 124.5,226.1 125.5,225.5 126.5,225.0 127.5,224.5 128.5,223.9 129.5,223.4 130.5,222.8 131.5,222.3 132.5,221.7 133.5,221.2 134.5,220.6 135.5,220.1 136.5,219.5 137.5,219.0 138.5,218.4 139.5,217.9 140.5,217.3 141.5,216.7 142.5,216.2 143.5,215.6 144.5,215.1 145.5,214.5 146.5,214.0 147.5,213.4 148.5,212.9 149.5,212.3 150.5,211.8 151.5,211.2 152.5,210.7 153.5,210.1 154.5,209.6 155.5,209.0 156.5,208.5 157.5,207.9 158.5,207.4 159.5,206.8 160.5,206.3 161.5,205.8 162.5,205.2 163.5,204.7 164.5,204.1 165.5,203.6 166.5,203.1 167.5,202.5 168.5,202.0 169.5,201.5 170.5,200.9 171.5,200.4 172.5,199.9 173.5,199.3 174.5,198.8 175.5,198.3 176.5,197.8 177.5,197.3 178.5,196.7 179.5,196.2 180.5,195.7 181.5,195.2 182.5,194.7 183.5,194.1 184.5,193.6 185.5,193.1 186.5,192.6 187.5,192.1 188.5,191.6 189.5,191.1 190.5,190.6 191.5,190.1 192.5,189.6 193.5,189.1 194.5,188.6 195.5,188.1 196.5,187.6 197.5,187.1 198.5,186.6 199.5,186.1 200.5,185.6 201.5,185.1 202.5,184.6 203.5,184.1 204.5,183.6 205.5,183.1 206.5,182.6 207.5,182.1 208.5,181.7 209.5,181.2 210.5,180.7 211.5,180.2 212.5,179.7 213.5,179.2 214.5,178.8 215.5,178.3 216.5,177.8 217.5,177.3 217.8,177.2 217.8,233.2 217.5,233.1 216.5,232.9 215.5,232.7 214.5,232.5 213.5,232.3 212.5,232.0 211.5,231.8 210.5,231.6 209.5,231.4 208.5,231.2 207.5,231.0 206.5,230.8 205.5,230.6 204.5,230.4 203.5,230.2 202.5,230.0 201.5,229.8 200.5,229.6 199.5,229.4 198.5,229.2 197.5,229.0 196.5,228.8 195.5,228.6 194.5,228.5 193.5,228.3 192.5,228.1 191.5,228.0 190.5,227.8 189.5,227.6 188.5,227.5 187.5,227.3 186.5,227.2 185.5,227.0 184.5,226.9 183.5,226.7 182.5,226.6 181.5,226.5 180.5,226.3 179.5,226.2 178.5,226.1 177.5,226.0 176.5,225.9 175.5,225.8 174.5,225.7 173.5,225.6 172.5,225.5 171.5,225.4 170.5,225.3 169.5,225.2 168.5,225.2 167.5,225.1 166.5,225.0 165.5,225.0 164.5,224.9 163.5,224.9 162.5,224.8 161.5,224.8 160.5,224.8 159.5,224.8 158.5,224.7 157.5,224.7 156.5,224.7 155.5,224.7 154.5,224.7 153.5,224.8 152.5,224.8 151.5,224.8 150.5,224.9 149.5,224.9 148.5,224.9 147.5,225.0 146.5,225.1 145.5,225.1 144.5,225.2 143.5,225.3 142.5,225.4 141.5,225.5 140.5,225.6 139.5,225.7 138.5,225.8 137.5,226.0 136.5,226.1 135.5,226.2 134.5,226.4 133.5,226.6 132.5,226.7 131.5,226.9 130.5,227.1 129.5,227.3 128.5,227.5 127.5,227.7 126.5,227.9 125.5,228.1 124.5,228.4 123.5,228.6 122.5,228.9 121.5,229.1 120.5,229.4 119.5,229.7 118.5,230.0 117.9,230.4 116.9,231.0 115.9,231.6 114.9,232.2 113.9,232.8 112.9,233.4 111.9,234.0 110.9,234.6 109.9,235.2 108.9,235.8 107.9,236.4 106.9,236.9 105.9,237.5 104.9,238.1 103.9,238.6 102.9,239.2 101.9,239.8 100.9,240.3 99.9,240.9 98.9,241.4 97.9,242.0 96.9,242.5 95.9,243.1 94.9,243.6 93.9,244.2 92.9,244.7 91.9,245.3 90.9,245.8 89.9,246.4 88.9,246.9 87.9,247.4 86.9,248.0 85.9,248.5 84.9,249.1 83.9,249.6 82.9,250.1 81.9,250.7 80.9,251.2 79.9,251.8 78.9,252.3 77.9,252.9 76.9,253.4 75.9,253.9 74.9,254.5 73.9,255.0 72.9,255.6 71.9,256.2 70.9,256.7 69.9,257.3 68.9,257.8 67.9,258.4 66.9,259.0 65.9,259.5 64.9,260.1 63.9,260.7 62.9,261.3 61.9,261.8 60.9,262.4 59.9,263.0 58.9,263.6 57.9,264.2 56.9,264.8 55.9,265.4 54.9,266.0 53.9,266.6 52.9,267.2 51.9,267.8 50.9,268.4 49.9,269.0 48.9,269.6 47.9,270.3 46.9,270.9 45.9,271.5 44.9,272.1 43.9,272.7 42.9,273.3 41.9,274.0 40.9,274.6 39.9,275.2 38.9,275.8 37.9,276.4 36.9,276.9 35.9,277.5 34.9,278.1 33.9,278.6 32.9,279.2 31.9,279.7 30.9,280.2 29.9,280.7 28.9,281.2 27.9,281.7Z" fill="#ccccff"/>
<line x1="19.0" y1="229.50" x2="228.3" y2="229.50" stroke="#ff8585" stroke-width="1.35" stroke-dasharray="2 1.7"/>
<path d="M27.9,268.0 28.9,267.9 29.9,267.7 30.9,267.6 31.9,267.4 32.9,267.2 33.9,267.1 34.9,266.9 35.9,266.7 36.9,266.5 37.9,266.3 38.9,266.0 39.9,265.8 40.9,265.6 41.9,265.3 42.9,265.1 43.9,264.8 44.9,264.5 45.9,264.2 46.9,264.0 47.9,263.6 48.9,263.3 49.9,263.0 50.9,262.7 51.9,262.3 52.9,262.0 53.9,261.6 54.9,261.2 55.9,260.9 56.9,260.5 57.9,260.1 58.9,259.7 59.9,259.2 60.9,258.8 61.9,258.4 62.9,257.9 63.9,257.5 64.9,257.0 65.9,256.6 66.9,256.1 67.9,255.6 68.9,255.1 69.9,254.6 70.9,254.1 71.9,253.6 72.9,253.1 73.9,252.6 74.9,252.1 75.9,251.6 76.9,251.1 77.9,250.6 78.9,250.0 79.9,249.5 80.9,249.0 81.9,248.5 82.9,247.9 83.9,247.4 84.9,246.9 85.9,246.3 86.9,245.8 87.9,245.3 88.9,244.7 89.9,244.2 90.9,243.7 91.9,243.2 92.9,242.6 93.9,242.1 94.9,241.6 95.9,241.1 96.9,240.5 97.9,240.0 98.9,239.5 99.9,239.0 100.9,238.5 101.9,238.0 102.9,237.5 103.9,237.0 104.9,236.4 105.9,236.0 106.9,235.5 107.9,235.0 108.9,234.5 109.9,234.0 110.9,233.5 111.9,233.0 112.9,232.6 113.9,232.1 114.9,231.6 115.9,231.2 116.9,230.7 117.9,230.2 118.9,229.8 119.9,229.4 120.9,228.9 121.9,228.5 122.9,228.1 123.9,227.6 124.9,227.2 125.9,226.8 126.9,226.4 127.9,226.0 128.9,225.6 129.9,225.2 130.9,224.8 131.9,224.4 132.9,224.1 133.9,223.7 134.9,223.3 135.9,223.0 136.9,222.6 137.9,222.3 138.9,221.9 139.9,221.6 140.9,221.3 141.9,220.9 142.9,220.6 143.9,220.3 144.9,220.0 145.9,219.7 146.9,219.4 147.9,219.1 148.9,218.8 149.9,218.5 150.9,218.2 151.9,217.9 152.9,217.6 153.9,217.4 154.9,217.1 155.9,216.8 156.9,216.6 157.9,216.3 158.9,216.0 159.9,215.8 160.9,215.5 161.9,215.3 162.9,215.0 163.9,214.8 164.9,214.6 165.9,214.3 166.9,214.1 167.9,213.9 168.9,213.7 169.9,213.4 170.9,213.2 171.9,213.0 172.9,212.8 173.9,212.6 174.9,212.4 175.9,212.2 176.9,212.0 177.9,211.8 178.9,211.6 179.9,211.4 180.9,211.2 181.9,211.0 182.9,210.8 183.9,210.6 184.9,210.4 185.9,210.2 186.9,210.0 187.9,209.9 188.9,209.7 189.9,209.5 190.9,209.3 191.9,209.2 192.9,209.0 193.9,208.8 194.9,208.6 195.9,208.5 196.9,208.3 197.9,208.1 198.9,208.0 199.9,207.8 200.9,207.6 201.9,207.5 202.9,207.3 203.9,207.1 204.9,207.0 205.9,206.8 206.9,206.7 207.9,206.5 208.9,206.3 209.9,206.2 210.9,206.0 211.9,205.9 212.9,205.7 213.9,205.5 214.9,205.4 215.9,205.2 216.9,205.0 217.8,204.9" fill="none" stroke="#4646ff" stroke-width="1.0"/>
<path d="M18.60,167.00 L18.60,302.90 L228.00,302.90" fill="none" stroke="#666666" stroke-width="1.3"/>
<text transform="translate(22.10,170.10) scale(0.95,1)" font-family="Liberation Serif, serif" font-weight="bold" font-size="11.3" fill="#1a1a1a">(D)</text>
<text transform="translate(8.0,236.4) rotate(-90)" text-anchor="middle" font-family="Liberation Serif, serif" font-size="7.40" fill="#222" stroke="#222" stroke-width="0.12" textLength="98.2" lengthAdjust="spacingAndGlyphs">Percent change in odds of MI, %</text>
<text x="125.0" y="318.0" text-anchor="middle" font-family="Liberation Serif, serif" font-size="7.60" fill="#222" stroke="#222" stroke-width="0.25" textLength="76.7" lengthAdjust="spacingAndGlyphs">NO<tspan font-size="5.17">2</tspan> concentration, μg/m<tspan font-size="4.71" dy="-2.6">3</tspan></text>
<text transform="translate(16.60,186.76) scale(0.88,1)" text-anchor="end" font-family="Liberation Sans, sans-serif" font-size="4.90" fill="#5e5e5e">20</text>
<text transform="translate(16.60,209.26) scale(0.88,1)" text-anchor="end" font-family="Liberation Sans, sans-serif" font-size="4.90" fill="#5e5e5e">10</text>
<text transform="translate(16.60,231.26) scale(0.88,1)" text-anchor="end" font-family="Liberation Sans, sans-serif" font-size="4.90" fill="#5e5e5e">0</text>
<text transform="translate(16.60,254.36) scale(0.88,1)" text-anchor="end" font-family="Liberation Sans, sans-serif" font-size="4.90" fill="#5e5e5e">-10</text>
<text transform="translate(16.60,277.16) scale(0.88,1)" text-anchor="end" font-family="Liberation Sans, sans-serif" font-size="4.90" fill="#5e5e5e">-20</text>
<text transform="translate(16.60,299.36) scale(0.88,1)" text-anchor="end" font-family="Liberation Sans, sans-serif" font-size="4.90" fill="#5e5e5e">-30</text>
<text transform="translate(27.80,309.80) scale(0.88,1)" text-anchor="middle" font-family="Liberation Sans, sans-serif" font-size="4.90" fill="#5e5e5e">0</text>
<text transform="translate(66.20,309.80) scale(0.88,1)" text-anchor="middle" font-family="Liberation Sans, sans-serif" font-size="4.90" fill="#5e5e5e">25</text>
<text transform="translate(104.00,309.80) scale(0.88,1)" text-anchor="middle" font-family="Liberation Sans, sans-serif" font-size="4.90" fill="#5e5e5e">50</text>
<text transform="translate(142.00,309.80) scale(0.88,1)" text-anchor="middle" font-family="Liberation Sans, sans-serif" font-size="4.90" fill="#5e5e5e">75</text>
<text transform="translate(180.00,309.80) scale(0.88,1)" text-anchor="middle" font-family="Liberation Sans, sans-serif" font-size="4.90" fill="#5e5e5e">100</text>
<text transform="translate(218.00,309.80) scale(0.88,1)" text-anchor="middle" font-family="Liberation Sans, sans-serif" font-size="4.90" fill="#5e5e5e">125</text>
<path d="M256.3,230.4 257.3,230.9 258.3,231.3 259.3,231.7 260.3,232.1 261.3,232.5 262.3,232.8 263.3,233.2 264.3,233.5 265.3,233.8 266.3,234.1 267.3,234.3 268.3,234.6 269.3,234.8 270.3,235.1 271.3,235.3 272.3,235.5 273.3,235.6 274.3,235.8 275.3,236.0 276.3,236.1 277.3,236.2 278.3,236.3 279.3,236.4 280.3,236.5 281.3,236.6 282.3,236.6 283.3,236.7 284.3,236.7 285.3,236.7 286.3,236.7 287.3,236.7 288.3,236.7 289.3,236.7 290.3,236.7 291.3,236.6 292.3,236.6 293.3,236.5 294.3,236.4 295.3,236.3 296.3,236.2 297.3,236.1 298.3,236.0 299.3,235.9 300.3,235.8 301.3,235.7 302.3,235.5 303.3,235.4 304.3,235.2 305.3,235.1 306.3,234.9 307.3,234.8 308.3,234.6 309.3,234.4 310.3,234.2 311.3,234.0 312.3,233.8 313.3,233.7 314.3,233.5 315.3,233.3 316.3,233.0 317.3,232.8 318.3,232.6 319.3,232.4 320.3,232.2 321.3,232.0 322.3,231.8 323.3,231.5 324.3,231.3 325.3,231.1 326.3,230.9 327.3,230.6 328.3,230.4 329.3,230.2 330.3,229.9 331.3,229.7 332.3,229.5 333.3,229.2 334.3,229.0 335.3,228.7 336.3,228.5 337.3,228.2 338.3,228.0 339.3,227.7 340.3,227.5 341.3,227.2 342.3,227.0 343.3,226.7 344.3,226.4 345.3,226.2 346.3,225.9 347.3,225.6 348.3,225.4 349.3,225.1 350.3,224.8 351.3,224.6 352.3,224.3 353.3,224.0 354.3,223.7 355.3,223.5 356.3,223.2 357.3,222.9 358.3,222.6 359.3,222.3 360.3,222.0 361.3,221.7 362.3,221.5 363.3,221.2 364.3,220.9 365.3,220.6 366.3,220.3 367.3,220.0 368.3,219.7 369.3,219.4 370.3,219.1 371.3,218.8 372.3,218.4 373.3,218.1 374.3,217.8 375.3,217.5 376.3,217.2 377.3,216.9 378.3,216.6 379.3,216.2 380.3,215.9 381.3,215.6 382.3,215.3 383.3,215.0 384.3,214.6 385.3,214.3 386.3,214.0 387.3,213.6 388.3,213.3 389.3,213.0 390.3,212.6 391.3,212.3 392.3,212.0 393.3,211.6 394.3,211.3 395.3,210.9 396.3,210.6 397.3,210.2 397.4,210.2 398.4,209.7 399.4,209.2 400.4,208.7 401.4,208.1 402.4,207.6 403.4,207.1 404.4,206.5 405.4,205.9 406.4,205.4 407.4,204.8 408.4,204.2 409.4,203.6 410.4,203.0 411.4,202.4 412.4,201.8 413.4,201.2 414.4,200.5 415.4,199.9 416.4,199.2 417.4,198.6 418.4,197.9 419.4,197.2 420.4,196.6 421.4,195.9 422.4,195.2 423.4,194.5 424.4,193.8 425.4,193.0 426.4,192.3 427.4,191.6 428.4,190.9 429.4,190.1 430.4,189.4 431.4,188.6 432.4,187.8 433.4,187.0 434.4,186.3 435.4,185.5 436.4,184.7 437.4,183.9 438.4,183.1 439.4,182.3 440.4,181.4 441.4,180.6 442.4,179.8 443.3,179.0 443.3,192.5 442.4,192.8 441.4,193.1 440.4,193.4 439.4,193.7 438.4,194.0 437.4,194.4 436.4,194.7 435.4,195.1 434.4,195.5 433.4,195.8 432.4,196.2 431.4,196.6 430.4,197.0 429.4,197.4 428.4,197.8 427.4,198.3 426.4,198.7 425.4,199.1 424.4,199.6 423.4,200.0 422.4,200.5 421.4,200.9 420.4,201.4 419.4,201.8 418.4,202.3 417.4,202.8 416.4,203.3 415.4,203.7 414.4,204.2 413.4,204.7 412.4,205.2 411.4,205.7 410.4,206.2 409.4,206.7 408.4,207.2 407.4,207.7 406.4,208.2 405.4,208.7 404.4,209.2 403.4,209.7 402.4,210.2 401.4,210.7 400.4,211.2 399.4,211.7 398.4,212.2 397.4,212.7 397.3,212.8 396.3,213.3 395.3,213.8 394.3,214.4 393.3,214.9 392.3,215.4 391.3,215.9 390.3,216.5 389.3,217.0 388.3,217.5 387.3,218.0 386.3,218.5 385.3,219.0 384.3,219.5 383.3,220.0 382.3,220.5 381.3,221.0 380.3,221.5 379.3,222.0 378.3,222.4 377.3,222.9 376.3,223.4 375.3,223.8 374.3,224.3 373.3,224.8 372.3,225.2 371.3,225.7 370.3,226.1 369.3,226.6 368.3,227.0 367.3,227.5 366.3,227.9 365.3,228.3 364.3,228.7 363.3,229.2 362.3,229.6 361.3,230.0 360.3,230.4 359.3,230.8 358.3,231.2 357.3,231.6 356.3,232.0 355.3,232.4 354.3,232.8 353.3,233.2 352.3,233.6 351.3,233.9 350.3,234.3 349.3,234.7 348.3,235.0 347.3,235.4 346.3,235.8 345.3,236.1 344.3,236.5 343.3,236.8 342.3,237.1 341.3,237.5 340.3,237.8 339.3,238.1 338.3,238.5 337.3,238.8 336.3,239.1 335.3,239.4 334.3,239.7 333.3,240.0 332.3,240.3 331.3,240.6 330.3,240.9 329.3,241.2 328.3,241.5 327.3,241.7 326.3,242.0 325.3,242.3 324.3,242.5 323.3,242.8 322.3,243.0 321.3,243.3 320.3,243.5 319.3,243.8 318.3,244.0 317.3,244.2 316.3,244.5 315.3,244.7 314.3,244.9 313.3,245.1 312.3,245.3 311.3,245.5 310.3,245.7 309.3,245.9 308.3,246.1 307.3,246.3 306.3,246.5 305.3,246.6 304.3,246.8 303.3,247.0 302.3,247.1 301.3,247.3 300.3,247.5 299.3,247.7 298.3,247.8 297.3,248.0 296.3,248.2 295.3,248.4 294.3,248.6 293.3,248.8 292.3,249.0 291.3,249.2 290.3,249.5 289.3,249.7 288.3,250.0 287.3,250.2 286.3,250.5 285.3,250.8 284.3,251.2 283.3,251.5 282.3,251.9 281.3,252.3 280.3,252.7 279.3,253.1 278.3,253.6 277.3,254.0 276.3,254.5 275.3,255.1 274.3,255.6 273.3,256.2 272.3,256.8 271.3,257.5 270.3,258.2 269.3,258.9 268.3,259.6 267.3,260.3 266.3,261.1 265.3,261.8 264.3,262.6 263.3,263.4 262.3,264.2 261.3,265.0 260.3,265.7 259.3,266.5 258.3,267.3 257.3,268.1 256.3,268.8Z" fill="#ccccff"/>
<line x1="246.0" y1="212.50" x2="453.5" y2="212.50" stroke="#ff8585" stroke-width="1.35" stroke-dasharray="2 1.7"/>
<path d="M256.3,249.5 257.3,249.3 258.3,249.1 259.3,248.9 260.3,248.7 261.3,248.5 262.3,248.3 263.3,248.1 264.3,247.9 265.3,247.7 266.3,247.5 267.3,247.3 268.3,247.2 269.3,247.0 270.3,246.8 271.3,246.6 272.3,246.4 273.3,246.2 274.3,246.0 275.3,245.9 276.3,245.7 277.3,245.5 278.3,245.3 279.3,245.1 280.3,245.0 281.3,244.8 282.3,244.6 283.3,244.4 284.3,244.3 285.3,244.1 286.3,243.9 287.3,243.7 288.3,243.6 289.3,243.4 290.3,243.2 291.3,243.0 292.3,242.9 293.3,242.7 294.3,242.5 295.3,242.3 296.3,242.1 297.3,242.0 298.3,241.8 299.3,241.6 300.3,241.4 301.3,241.2 302.3,241.1 303.3,240.9 304.3,240.7 305.3,240.5 306.3,240.3 307.3,240.1 308.3,239.9 309.3,239.8 310.3,239.6 311.3,239.4 312.3,239.2 313.3,239.0 314.3,238.8 315.3,238.6 316.3,238.4 317.3,238.2 318.3,238.0 319.3,237.8 320.3,237.6 321.3,237.4 322.3,237.1 323.3,236.9 324.3,236.7 325.3,236.5 326.3,236.3 327.3,236.1 328.3,235.8 329.3,235.6 330.3,235.4 331.3,235.1 332.3,234.9 333.3,234.7 334.3,234.4 335.3,234.2 336.3,233.9 337.3,233.7 338.3,233.4 339.3,233.2 340.3,232.9 341.3,232.6 342.3,232.4 343.3,232.1 344.3,231.8 345.3,231.6 346.3,231.3 347.3,231.0 348.3,230.7 349.3,230.4 350.3,230.1 351.3,229.8 352.3,229.5 353.3,229.2 354.3,228.9 355.3,228.6 356.3,228.3 357.3,228.0 358.3,227.6 359.3,227.3 360.3,227.0 361.3,226.6 362.3,226.3 363.3,225.9 364.3,225.6 365.3,225.2 366.3,224.9 367.3,224.5 368.3,224.1 369.3,223.7 370.3,223.4 371.3,223.0 372.3,222.6 373.3,222.2 374.3,221.8 375.3,221.4 376.3,221.0 377.3,220.6 378.3,220.1 379.3,219.7 380.3,219.3 381.3,218.9 382.3,218.4 383.3,218.0 384.3,217.5 385.3,217.1 386.3,216.7 387.3,216.2 388.3,215.7 389.3,215.3 390.3,214.8 391.3,214.3 392.3,213.9 393.3,213.4 394.3,212.9 395.3,212.4 396.3,211.9 397.3,211.4 398.3,211.0 399.3,210.5 400.3,210.0 401.3,209.5 402.3,208.9 403.3,208.4 404.3,207.9 405.3,207.4 406.3,206.9 407.3,206.4 408.3,205.8 409.3,205.3 410.3,204.8 411.3,204.2 412.3,203.7 413.3,203.2 414.3,202.6 415.3,202.1 416.3,201.5 417.3,201.0 418.3,200.4 419.3,199.9 420.3,199.3 421.3,198.7 422.3,198.2 423.3,197.6 424.3,197.0 425.3,196.5 426.3,195.9 427.3,195.3 428.3,194.8 429.3,194.2 430.3,193.6 431.3,193.0 432.3,192.4 433.3,191.8 434.3,191.3 435.3,190.7 436.3,190.1 437.3,189.5 438.3,188.9 439.3,188.3 440.3,187.7 441.3,187.1 442.3,186.5 443.3,185.9" fill="none" stroke="#4646ff" stroke-width="1.0"/>
<path d="M245.40,166.00 L245.40,302.90 L453.60,302.90" fill="none" stroke="#666666" stroke-width="1.3"/>
<text transform="translate(248.80,169.80) scale(0.95,1)" font-family="Liberation Serif, serif" font-weight="bold" font-size="11.3" fill="#1a1a1a">(E)</text>
<text transform="translate(236.6,234.7) rotate(-90)" text-anchor="middle" font-family="Liberation Serif, serif" font-size="7.30" fill="#222" stroke="#222" stroke-width="0.12" textLength="99.5" lengthAdjust="spacingAndGlyphs">Percent change in odds of MI, %</text>
<text x="350.4" y="318.0" text-anchor="middle" font-family="Liberation Serif, serif" font-size="7.60" fill="#222" stroke="#222" stroke-width="0.25" textLength="75.2" lengthAdjust="spacingAndGlyphs">CO concentration, mg/m<tspan font-size="4.71" dy="-2.6">3</tspan></text>
<text transform="translate(243.90,181.76) scale(0.88,1)" text-anchor="end" font-family="Liberation Sans, sans-serif" font-size="4.90" fill="#5e5e5e">20</text>
<text transform="translate(243.90,214.26) scale(0.88,1)" text-anchor="end" font-family="Liberation Sans, sans-serif" font-size="4.90" fill="#5e5e5e">0</text>
<text transform="translate(243.90,246.76) scale(0.88,1)" text-anchor="end" font-family="Liberation Sans, sans-serif" font-size="4.90" fill="#5e5e5e">-20</text>
<text transform="translate(243.90,279.66) scale(0.88,1)" text-anchor="end" font-family="Liberation Sans, sans-serif" font-size="4.90" fill="#5e5e5e">-40</text>
<text transform="translate(255.30,309.80) scale(0.88,1)" text-anchor="middle" font-family="Liberation Sans, sans-serif" font-size="4.90" fill="#5e5e5e">0</text>
<text transform="translate(302.70,309.80) scale(0.88,1)" text-anchor="middle" font-family="Liberation Sans, sans-serif" font-size="4.90" fill="#5e5e5e">1</text>
<text transform="translate(349.30,309.80) scale(0.88,1)" text-anchor="middle" font-family="Liberation Sans, sans-serif" font-size="4.90" fill="#5e5e5e">2</text>
<text transform="translate(396.80,309.80) scale(0.88,1)" text-anchor="middle" font-family="Liberation Sans, sans-serif" font-size="4.90" fill="#5e5e5e">3</text>
<text transform="translate(444.00,309.80) scale(0.88,1)" text-anchor="middle" font-family="Liberation Sans, sans-serif" font-size="4.90" fill="#5e5e5e">4</text>
<path d="M483.3,191.0 484.3,192.9 485.3,194.8 486.3,196.8 487.3,198.7 488.3,200.6 489.3,202.6 490.3,204.5 491.3,206.4 492.3,208.4 493.3,210.3 494.3,212.2 495.3,214.0 496.3,215.9 497.3,217.7 498.3,219.5 499.3,221.3 500.3,223.0 501.3,224.8 502.3,226.4 503.3,228.1 504.3,229.7 505.3,231.3 506.3,232.8 507.3,234.2 508.3,235.6 509.3,237.0 510.3,238.2 511.3,239.4 512.3,240.5 513.3,241.5 514.3,242.5 515.3,243.3 516.3,244.0 517.3,244.6 518.3,245.1 519.3,245.5 520.3,245.8 521.3,246.1 522.3,246.2 523.3,246.4 524.3,246.4 525.3,246.4 526.3,246.3 527.3,246.2 528.3,246.0 529.3,245.8 530.3,245.5 531.3,245.2 532.3,244.8 533.3,244.4 534.3,243.9 535.3,243.3 536.3,242.8 537.3,242.2 538.3,241.5 539.3,240.8 540.3,240.1 541.3,239.3 542.3,238.5 543.3,237.6 544.3,236.7 545.3,235.8 546.3,234.9 547.3,234.0 548.3,233.0 549.3,232.1 550.3,231.1 551.3,230.2 552.3,229.2 553.3,228.2 554.3,227.3 555.3,226.3 556.3,225.3 557.3,224.4 558.3,223.4 559.3,222.4 560.3,221.5 561.3,220.5 562.3,219.6 563.3,218.7 564.3,217.7 565.3,216.8 566.3,215.9 567.3,215.0 568.3,214.1 569.3,213.3 570.3,212.4 571.3,211.6 572.3,210.8 573.3,210.0 574.3,209.2 575.3,208.4 576.3,207.7 577.3,207.0 578.3,206.3 579.3,205.7 580.3,205.1 581.3,204.5 582.3,203.9 583.3,203.4 584.3,202.9 585.3,202.4 586.3,201.9 587.3,201.5 588.3,201.1 589.3,200.8 590.3,200.4 591.3,200.1 592.3,199.8 593.3,199.5 594.3,199.2 595.3,198.9 596.3,198.7 597.3,198.5 598.3,198.2 599.3,198.0 600.3,197.8 601.3,197.6 602.3,197.4 603.3,197.2 604.3,197.0 605.3,196.8 606.3,196.6 607.3,196.4 608.3,196.2 609.3,196.1 610.3,195.9 611.3,195.7 612.3,195.5 613.3,195.4 614.3,195.2 615.3,195.0 616.3,194.8 617.3,194.7 618.3,194.5 619.3,194.4 620.3,194.2 621.3,194.0 622.3,193.9 623.3,193.7 624.3,193.6 625.3,193.4 626.3,193.2 627.3,193.1 628.3,192.9 629.3,192.8 630.3,192.6 631.3,192.5 632.3,192.3 633.3,192.1 634.3,192.0 635.3,191.8 636.3,191.7 637.3,191.5 638.3,191.3 639.3,191.2 640.3,191.0 641.3,190.8 642.3,190.7 643.3,190.5 644.3,190.3 645.3,190.2 646.3,190.0 647.3,189.9 648.3,189.7 649.3,189.6 650.3,189.4 651.3,189.3 652.3,189.1 653.3,189.0 654.3,188.8 655.3,188.7 656.3,188.6 657.3,188.5 658.3,188.4 659.3,188.2 660.3,188.1 661.3,188.0 662.3,188.0 663.3,187.9 664.3,187.8 665.3,187.7 666.3,187.7 667.3,187.6 668.3,187.6 669.3,187.5 670.3,187.5 671.3,187.5 672.3,187.5 673.1,187.5 673.1,275.0 672.3,274.1 671.3,272.9 670.3,271.7 669.3,270.6 668.3,269.4 667.3,268.2 666.3,267.0 665.3,265.8 664.3,264.6 663.3,263.4 662.3,262.2 661.3,261.0 660.3,259.9 659.3,258.7 658.3,257.5 657.3,256.3 656.3,255.1 655.3,254.0 654.3,252.8 653.3,251.7 652.3,250.6 651.3,249.4 650.3,248.3 649.3,247.2 648.3,246.1 647.3,245.1 646.3,244.0 645.3,243.0 644.3,241.9 643.3,240.9 642.3,239.9 641.3,239.0 640.3,238.0 639.3,237.1 638.3,236.2 637.3,235.3 636.3,234.5 635.3,233.6 634.3,232.8 633.3,232.1 632.3,231.3 631.3,230.6 630.3,229.9 629.3,229.2 628.3,228.6 627.3,228.0 626.3,227.4 625.3,226.9 624.3,226.4 623.3,225.9 622.3,225.5 621.3,225.1 620.3,224.7 619.3,224.3 618.3,224.0 617.3,223.6 616.3,223.4 615.3,223.1 614.3,222.9 613.3,222.7 612.3,222.5 611.3,222.3 610.3,222.2 609.3,222.0 608.3,222.0 607.3,221.9 606.3,221.8 605.3,221.8 604.3,221.8 603.3,221.8 602.3,221.8 601.3,221.9 600.3,222.0 599.3,222.0 598.3,222.2 597.3,222.3 596.3,222.4 595.3,222.6 594.3,222.8 593.3,223.0 592.3,223.2 591.3,223.5 590.3,223.8 589.3,224.1 588.3,224.4 587.3,224.8 586.3,225.1 585.3,225.5 584.3,226.0 583.3,226.4 582.3,226.9 581.3,227.4 580.3,227.9 579.3,228.5 578.3,229.1 577.3,229.7 576.3,230.3 575.3,231.0 574.3,231.7 573.3,232.4 572.3,233.2 571.3,234.0 570.3,234.8 569.3,235.6 568.3,236.5 567.3,237.4 566.3,238.3 565.3,239.3 564.3,240.3 563.3,241.3 562.3,242.3 561.3,243.3 560.3,244.3 559.3,245.3 558.3,246.3 557.3,247.3 556.3,248.3 555.3,249.3 554.3,250.2 553.3,251.1 552.3,251.9 551.3,252.8 550.3,253.5 549.3,254.2 548.3,254.9 547.3,255.5 546.3,256.1 545.3,256.6 544.3,257.0 543.3,257.4 542.3,257.7 541.3,258.0 540.3,258.2 539.3,258.4 538.3,258.5 537.3,258.6 536.3,258.6 535.3,258.5 534.3,258.5 533.3,258.3 532.3,258.1 531.3,257.9 530.3,257.6 529.3,257.2 528.3,256.8 527.3,256.4 526.3,255.9 525.3,255.4 524.3,254.8 523.3,254.2 522.3,253.5 521.3,252.8 520.3,252.1 519.3,251.4 518.3,250.6 517.3,249.8 516.3,249.0 515.3,248.2 514.3,247.4 513.3,246.6 512.3,245.8 511.3,245.0 510.3,244.2 509.3,243.4 508.3,242.6 507.3,241.8 506.3,241.1 505.3,240.4 504.3,239.7 503.3,239.1 502.3,238.5 501.3,237.9 500.3,237.4 499.3,236.9 498.3,236.4 497.3,235.9 496.3,235.4 495.3,234.9 494.3,234.5 493.3,234.0 492.3,233.6 491.3,233.2 490.3,232.7 489.3,232.3 488.3,231.8 487.3,231.4 486.3,230.9 485.3,230.4 484.3,229.9 483.3,229.4Z" fill="#ccccff"/>
<line x1="474.0" y1="245.00" x2="682.5" y2="245.00" stroke="#ff8585" stroke-width="1.35" stroke-dasharray="2 1.7"/>
<path d="M483.3,209.7 484.3,210.8 485.3,211.9 486.3,213.0 487.3,214.1 488.3,215.3 489.3,216.5 490.3,217.6 491.3,218.8 492.3,220.0 493.3,221.2 494.3,222.4 495.3,223.6 496.3,224.8 497.3,226.0 498.3,227.2 499.3,228.4 500.3,229.6 501.3,230.8 502.3,231.9 503.3,233.1 504.3,234.2 505.3,235.3 506.3,236.4 507.3,237.5 508.3,238.6 509.3,239.6 510.3,240.6 511.3,241.6 512.3,242.5 513.3,243.5 514.3,244.3 515.3,245.2 516.3,246.0 517.3,246.8 518.3,247.5 519.3,248.2 520.3,248.9 521.3,249.5 522.3,250.0 523.3,250.5 524.3,251.0 525.3,251.4 526.3,251.7 527.3,252.0 528.3,252.3 529.3,252.5 530.3,252.6 531.3,252.7 532.3,252.7 533.3,252.6 534.3,252.5 535.3,252.4 536.3,252.2 537.3,252.0 538.3,251.7 539.3,251.4 540.3,251.0 541.3,250.5 542.3,250.0 543.3,249.5 544.3,248.9 545.3,248.3 546.3,247.6 547.3,246.9 548.3,246.2 549.3,245.4 550.3,244.5 551.3,243.6 552.3,242.7 553.3,241.8 554.3,240.8 555.3,239.8 556.3,238.8 557.3,237.8 558.3,236.7 559.3,235.7 560.3,234.6 561.3,233.6 562.3,232.5 563.3,231.5 564.3,230.5 565.3,229.5 566.3,228.5 567.3,227.6 568.3,226.7 569.3,225.8 570.3,224.9 571.3,224.0 572.3,223.2 573.3,222.4 574.3,221.7 575.3,220.9 576.3,220.2 577.3,219.5 578.3,218.8 579.3,218.2 580.3,217.6 581.3,217.0 582.3,216.4 583.3,215.9 584.3,215.3 585.3,214.8 586.3,214.3 587.3,213.9 588.3,213.4 589.3,213.0 590.3,212.6 591.3,212.2 592.3,211.8 593.3,211.5 594.3,211.2 595.3,210.9 596.3,210.6 597.3,210.3 598.3,210.1 599.3,209.9 600.3,209.7 601.3,209.5 602.3,209.3 603.3,209.1 604.3,209.0 605.3,208.9 606.3,208.8 607.3,208.7 608.3,208.6 609.3,208.5 610.3,208.5 611.3,208.5 612.3,208.4 613.3,208.4 614.3,208.5 615.3,208.5 616.3,208.5 617.3,208.6 618.3,208.7 619.3,208.8 620.3,208.9 621.3,209.0 622.3,209.1 623.3,209.2 624.3,209.4 625.3,209.6 626.3,209.8 627.3,210.0 628.3,210.2 629.3,210.4 630.3,210.6 631.3,210.9 632.3,211.1 633.3,211.4 634.3,211.7 635.3,212.0 636.3,212.3 637.3,212.6 638.3,213.0 639.3,213.3 640.3,213.7 641.3,214.0 642.3,214.4 643.3,214.8 644.3,215.2 645.3,215.6 646.3,216.0 647.3,216.5 648.3,216.9 649.3,217.4 650.3,217.9 651.3,218.3 652.3,218.8 653.3,219.3 654.3,219.8 655.3,220.4 656.3,220.9 657.3,221.4 658.3,222.0 659.3,222.5 660.3,223.1 661.3,223.7 662.3,224.3 663.3,224.9 664.3,225.5 665.3,226.1 666.3,226.7 667.3,227.4 668.3,228.0 669.3,228.7 670.3,229.3 671.3,230.0 672.3,230.7 673.1,231.2" fill="none" stroke="#4646ff" stroke-width="1.0"/>
<path d="M474.00,166.00 L474.00,302.30 L682.00,302.30" fill="none" stroke="#666666" stroke-width="1.3"/>
<text transform="translate(479.60,170.80)" font-family="Liberation Sans, sans-serif" font-weight="bold" font-size="10.8" fill="#1a1a1a">(F)</text>
<text transform="translate(464.8,234.8) rotate(-90)" text-anchor="middle" font-family="Liberation Serif, serif" font-size="7.50" fill="#222" stroke="#222" stroke-width="0.15" textLength="99.7" lengthAdjust="spacingAndGlyphs">Percent change in odds of MI, %</text>
<text x="579.5" y="318.0" text-anchor="middle" font-family="Liberation Serif, serif" font-size="7.60" fill="#222" stroke="#222" stroke-width="0.25" textLength="71.8" lengthAdjust="spacingAndGlyphs">O<tspan font-size="5.17">3</tspan> concentration, μg/m<tspan font-size="4.71" dy="-2.6">3</tspan></text>
<text transform="translate(472.10,174.26) scale(0.88,1)" text-anchor="end" font-family="Liberation Sans, sans-serif" font-size="4.90" fill="#5e5e5e">10</text>
<text transform="translate(472.10,210.76) scale(0.88,1)" text-anchor="end" font-family="Liberation Sans, sans-serif" font-size="4.90" fill="#5e5e5e">5</text>
<text transform="translate(472.10,246.76) scale(0.88,1)" text-anchor="end" font-family="Liberation Sans, sans-serif" font-size="4.90" fill="#5e5e5e">0</text>
<text transform="translate(472.10,284.16) scale(0.88,1)" text-anchor="end" font-family="Liberation Sans, sans-serif" font-size="4.90" fill="#5e5e5e">-5</text>
<text transform="translate(483.50,309.80) scale(0.88,1)" text-anchor="middle" font-family="Liberation Sans, sans-serif" font-size="4.90" fill="#5e5e5e">0</text>
<text transform="translate(515.00,309.80) scale(0.88,1)" text-anchor="middle" font-family="Liberation Sans, sans-serif" font-size="4.90" fill="#5e5e5e">50</text>
<text transform="translate(547.20,309.80) scale(0.88,1)" text-anchor="middle" font-family="Liberation Sans, sans-serif" font-size="4.90" fill="#5e5e5e">100</text>
<text transform="translate(578.30,309.80) scale(0.88,1)" text-anchor="middle" font-family="Liberation Sans, sans-serif" font-size="4.90" fill="#5e5e5e">150</text>
<text transform="translate(610.00,309.80) scale(0.88,1)" text-anchor="middle" font-family="Liberation Sans, sans-serif" font-size="4.90" fill="#5e5e5e">200</text>
<text transform="translate(641.50,309.80) scale(0.88,1)" text-anchor="middle" font-family="Liberation Sans, sans-serif" font-size="4.90" fill="#5e5e5e">250</text>
<text transform="translate(673.00,309.80) scale(0.88,1)" text-anchor="middle" font-family="Liberation Sans, sans-serif" font-size="4.90" fill="#5e5e5e">300</text>
</svg>
</body></html>
